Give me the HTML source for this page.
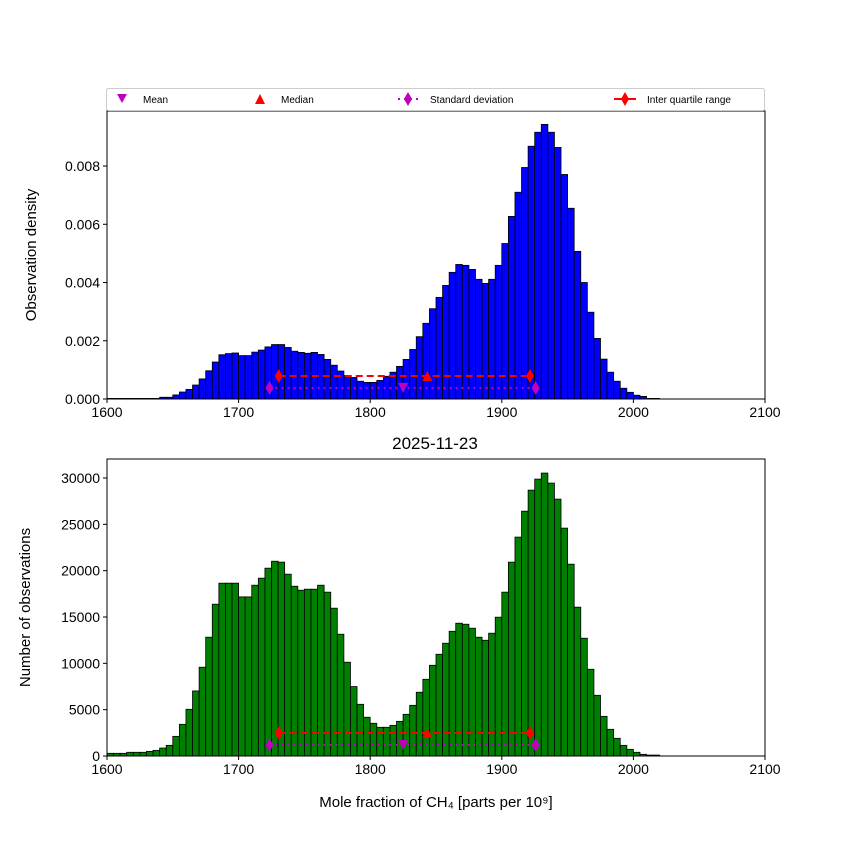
<!DOCTYPE html>
<html><head><meta charset="utf-8">
<style>body{margin:0;background:#fff}svg{display:block;font-family:"Liberation Sans","DejaVu Sans",sans-serif}</style>
</head><body>
<svg id="chart" width="850" height="850"></svg>
<script>
const binStart = 1600, binWidth = 5;
const densityValues = [0.00002,0.00002,0.00002,0.00002,0.00002,0.00002,0.00002,0.00002,0.00006,0.00006,0.00014,0.00024,0.00033,0.00048,0.00069,0.00097,0.00127,0.00152,0.00156,0.00158,0.00149,0.00149,0.00161,0.00168,0.00179,0.00187,0.00187,0.00177,0.00164,0.0016,0.00157,0.0016,0.00153,0.00136,0.00116,0.00096,0.00081,0.00074,0.00061,0.00057,0.00057,0.00064,0.00078,0.00092,0.00112,0.00136,0.0017,0.00214,0.0026,0.0031,0.00349,0.0039,0.00435,0.00462,0.00459,0.00445,0.00411,0.00397,0.00411,0.00459,0.00534,0.00627,0.0071,0.00795,0.00868,0.00916,0.00943,0.00916,0.00864,0.00771,0.00655,0.00507,0.004,0.00298,0.00208,0.00137,0.00092,0.00061,0.00037,0.00023,0.00013,0.00009,0.00002,0.00002];
const countValues = [290,290,290,400,400,400,500,610,860,1150,2120,3420,5040,7020,9580,12820,16380,18650,18650,18650,17170,17170,18430,19190,20270,21020,20920,19620,18320,17890,18000,18000,18430,17680,15950,13140,10120,7490,5580,4180,3530,3100,3100,3310,3740,4500,5470,6880,8280,9790,10980,12170,13460,14330,14220,13790,12820,12490,13250,14980,17680,20920,23620,26420,28690,29880,30530,29450,27720,24590,20700,16060,12710,9360,6550,4280,2880,1910,1150,720,400,180,100,100];
const xTicks = [1600,1700,1800,1900,2000,2100];
const densityTicks = [0,0.002,0.004,0.006,0.008];
const densityTickLabels = ["0.000","0.002","0.004","0.006","0.008"];
const countTicks = [0,5000,10000,15000,20000,25000,30000];
const stats = {mean:1825, median:1843.5, sdLo:1723.5, sdHi:1925.7, q1:1730.5, q3:1921.4};
const densityMarkerY = {iqr:0.00079, sd:0.00038};
const countMarkerY = {iqr:2480, sd:1190};

const NS="http://www.w3.org/2000/svg", svg=document.getElementById('chart');
function el(t,a,p){const e=document.createElementNS(NS,t);for(const k in a)e.setAttribute(k,a[k]);(p||svg).appendChild(e);return e;}
const X0=107,X1=765;
const xs=v=>X0+(v-1600)/500*(X1-X0);

function panel(name,top,bot,ymax,vals,color,ticks,labels,ylabel,my){
  const g=el('g',{});
  
  
  const ys=v=>bot-v/ymax*(bot-top);
  vals.forEach((v,i)=>{
    const x=xs(binStart+i*binWidth),w=xs(binStart+(i+1)*binWidth)-x;
    const r=el('rect',{x:x,y:ys(v),width:w,height:bot-ys(v),fill:color,stroke:'#000','stroke-width':0.8},g);
    
    
  });
  // stats lines
  const yi=ys(my.iqr), yd=ys(my.sd);
  el('line',{x1:xs(stats.sdLo),x2:xs(stats.sdHi),y1:yd,y2:yd,stroke:'#bf00bf','stroke-width':2,'stroke-dasharray':'2,4'},g);
  el('line',{x1:xs(stats.q1),x2:xs(stats.q3),y1:yi,y2:yi,stroke:'#f00','stroke-width':2,'stroke-dasharray':'7,4'},g);
  const dia=(x,y,c)=>el('path',{d:`M${x} ${y-7}L${x+4} ${y}L${x} ${y+7}L${x-4} ${y}Z`,fill:c},g);
  dia(xs(stats.sdLo),yd,'#bf00bf');dia(xs(stats.sdHi),yd,'#bf00bf');
  dia(xs(stats.q1),yi,'#f00');dia(xs(stats.q3),yi,'#f00');
  const mx=xs(stats.mean);el('path',{d:`M${mx-5} ${yd-5}L${mx+5} ${yd-5}L${mx} ${yd+5}Z`,fill:'#bf00bf'},g);
  const dx=xs(stats.median);el('path',{d:`M${dx-5} ${yi+5}L${dx+5} ${yi+5}L${dx} ${yi-5}Z`,fill:'#f00'},g);
  el('rect',{x:X0,y:top,width:X1-X0,height:bot-top,fill:'none',stroke:'#000','stroke-width':1},g);
  xTicks.forEach(t=>{el('line',{x1:xs(t),x2:xs(t),y1:bot,y2:bot+4,stroke:'#000'},g);
    const tx=el('text',{x:xs(t),y:bot+18,'text-anchor':'middle','font-size':14},g);tx.textContent=t;});
  ticks.forEach((t,i)=>{el('line',{x1:X0-4,x2:X0,y1:ys(t),y2:ys(t),stroke:'#000'},g);
    const tx=el('text',{x:X0-7,y:ys(t)+5,'text-anchor':'end','font-size':14},g);tx.textContent=labels[i];});
  const yl=el('text',{x:0,y:0,'text-anchor':'middle','font-size':15,transform:`translate(${name==='density-panel'?36:30},${(top+bot)/2}) rotate(-90)`},g);
  yl.textContent=ylabel;
}
panel('density-panel',111,399,0.00989,densityValues,'#0000ff',densityTicks,densityTickLabels,'Observation density',densityMarkerY);
panel('count-panel',459,756,32050,countValues,'#008000',countTicks,countTicks.map(String),'Number of observations',countMarkerY);
</script>
<svg width="850" height="850" style="position:absolute;left:0;top:0" font-family="Liberation Sans, DejaVu Sans, sans-serif">
  <text x="435" y="449" text-anchor="middle" font-size="17">2025-11-23</text>
  <text x="436" y="807" text-anchor="middle" font-size="15">Mole fraction of CH₄ [parts per 10⁹]</text>
  <g>
    <rect x="106.5" y="88.5" width="658" height="22" fill="#fff" stroke="#ccc" rx="2"/>
    <path d="M117 94L127 94L122 103Z" fill="#bf00bf"/>
    <text x="143" y="103" font-size="10">Mean</text>
    <path d="M255 104L265 104L260 94Z" fill="#f00"/>
    <text x="281" y="103" font-size="10">Median</text>
    <line x1="398" y1="99" x2="418" y2="99" stroke="#bf00bf" stroke-width="2" stroke-dasharray="2,4"/>
    <path d="M408 92L412 99L408 106L404 99Z" fill="#bf00bf"/>
    <text x="430" y="103" font-size="10">Standard deviation</text>
    <line x1="614" y1="99" x2="636" y2="99" stroke="#f00" stroke-width="2"/>
    <path d="M625 92L629 99L625 106L621 99Z" fill="#f00"/>
    <text x="647" y="103" font-size="10">Inter quartile range</text>
  </g>
</svg>
</body></html>
